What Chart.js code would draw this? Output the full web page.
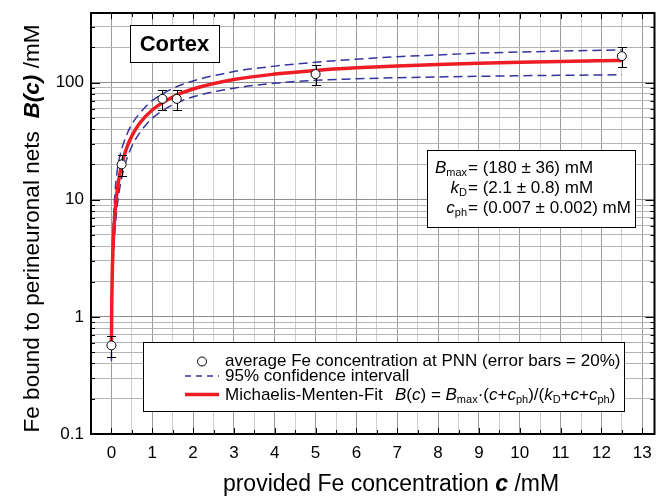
<!DOCTYPE html>
<html>
<head>
<meta charset="utf-8">
<script src="https://cdn.jsdelivr.net/npm/chart.js@4/dist/chart.umd.min.js"></script>
<style>
  html, body { margin: 0; padding: 0; background: #fff; }
  #wrap { width: 660px; height: 496px; }
</style>
</head>
<body>
<div id="wrap"><canvas id="chart" width="660" height="496"></canvas></div>
<script>
// Measured Fe bound to perineuronal nets (cortex) vs. provided Fe concentration
const conc    = [0, 0.25, 1.25, 1.6, 5, 12.5];          // c /mM
const feBound = [0.57, 20, 72.5, 72.5, 118, 168];        // B(c) /mM
const errorPercent = 20;                                  // error bars = 20 %

// Michaelis-Menten fit and its 95 % confidence band
const fitConc = [0, 0.01, 0.02, 0.04, 0.07, 0.1, 0.15, 0.2, 0.3, 0.4, 0.5, 0.7, 1, 1.5, 2, 3, 4, 5, 6, 7, 8, 9, 10, 11, 12, 12.5];
const fitB    = [0.6, 1.45, 2.29, 3.94, 6.37, 8.73, 12.5, 16.2, 23.0, 29.2, 35.0, 45.3, 58.3, 75.2, 88.0, 106, 118, 126.8, 133.4, 138.5, 142.6, 146, 148.8, 151.2, 153.2, 154.1];
const ciUpper = [0.78, 1.95, 3.2, 5.6, 9.2, 13, 18.5, 23, 30.5, 37.5, 44, 55, 70, 89, 103, 124, 138, 149, 158, 166, 172, 178, 182, 185.5, 188.5, 190];
const ciLower = [0.42, 1.05, 1.65, 2.8, 4.5, 6.3, 9.3, 12.3, 18.2, 23.5, 28.5, 37.5, 49.5, 64.5, 75.5, 89.5, 98.5, 104.5, 107.5, 110, 111.5, 113, 114.2, 115.2, 116, 116.4];

// Axis ticks
const xTickLabels = ['0','1','2','3','4','5','6','7','8','9','10','11','12','13'];
const yTickLabels = ['0.1','1','10','100'];

const FAMILY = '"Liberation Sans", Arial, Helvetica, sans-serif';
const X_MIN = -0.5, X_MAX = 13.3, Y_MIN = 0.1, Y_MAX = 392;

const xTickValues = [];
for (let v = 0; v <= 13; v += 0.5) xTickValues.push(v);
const yDecades = yTickLabels.map(Number);
const yTickValues = [];
yDecades.forEach(d => { for (let m = 1; m <= 9; m++) { const v = +(d * m).toPrecision(3); if (v <= Y_MAX) yTickValues.push(v); } });

const pts = (xs, ys) => xs.map((x, i) => ({ x, y: ys[i] }));

// ---- rich text (italic / bold / subscript runs) ----
function fontFor(style, size) {
  return (style.includes('i') ? 'italic ' : '') + (style.includes('b') ? 'bold ' : '') + size + 'px ' + FAMILY;
}
function richWidth(ctx, segs, size) {
  let w = 0;
  segs.forEach(([t, s]) => {
    const sub = s.includes('s');
    ctx.font = fontFor(s, sub ? Math.round(size * 0.64) : size);
    w += ctx.measureText(t).width;
  });
  return w;
}
function drawRich(ctx, segs, x, y, size, align) {
  const w = richWidth(ctx, segs, size);
  let cx = align === 'center' ? x - w / 2 : align === 'right' ? x - w : x;
  ctx.textAlign = 'left';
  ctx.textBaseline = 'alphabetic';
  segs.forEach(([t, s]) => {
    const sub = s.includes('s');
    ctx.font = fontFor(s, sub ? Math.round(size * 0.64) : size);
    ctx.fillText(t, cx, sub ? y + size * 0.2 : y);
    cx += ctx.measureText(t).width;
  });
}

function drawBox(ctx, x, y, w, h) {
  ctx.save();
  ctx.fillStyle = '#fff';
  ctx.fillRect(x, y, w, h);
  ctx.strokeStyle = '#000';
  ctx.lineWidth = 1;
  ctx.strokeRect(x + 0.5, y + 0.5, w, h);
  ctx.restore();
}

const decor = {
  id: 'decor',
  beforeDatasetDraw(chart, args) {
    if (args.index !== 0) return;
    // error bars under the markers
    const { ctx, scales: { x, y } } = chart;
    const f = errorPercent / 100;
    ctx.save();
    ctx.strokeStyle = '#000';
    ctx.lineWidth = 1;
    conc.forEach((c, i) => {
      const px = Math.round(x.getPixelForValue(c)) + 0.5;
      const t = Math.round(y.getPixelForValue(feBound[i] * (1 + f))) + 0.5;
      const b = Math.round(y.getPixelForValue(feBound[i] * (1 - f))) + 0.5;
      ctx.beginPath();
      ctx.moveTo(px, t); ctx.lineTo(px, b);
      ctx.moveTo(px - 4.5, t); ctx.lineTo(px + 4.5, t);
      ctx.moveTo(px - 4.5, b); ctx.lineTo(px + 4.5, b);
      ctx.stroke();
    });
    ctx.restore();
  },
  afterDatasetsDraw(chart) {
    const { ctx, chartArea: a, scales: { x, y } } = chart;
    ctx.save();
    ctx.fillStyle = '#000';

    // inward tick marks on all four sides
    ctx.strokeStyle = '#000';
    ctx.lineWidth = 1;
    ctx.beginPath();
    xTickValues.forEach(v => {
      const px = Math.round(x.getPixelForValue(v)) + 0.5;
      const len = Number.isInteger(v) ? 6 : 4;
      ctx.moveTo(px, a.bottom); ctx.lineTo(px, a.bottom - len);
      ctx.moveTo(px, a.top); ctx.lineTo(px, a.top + len);
    });
    yTickValues.forEach(v => {
      const py = Math.round(y.getPixelForValue(v)) + 0.5;
      const len = yDecades.includes(v) ? 9 : 4;
      ctx.moveTo(a.left, py); ctx.lineTo(a.left + len, py);
      ctx.moveTo(a.right, py); ctx.lineTo(a.right - len, py);
    });
    ctx.stroke();

    // plot frame
    ctx.lineWidth = 2;
    ctx.strokeRect(a.left, a.top, a.right - a.left, a.bottom - a.top);

    // sample label
    drawBox(ctx, 130, 25, 89, 37);
    ctx.font = 'bold 22px ' + FAMILY;
    ctx.textAlign = 'center';
    ctx.textBaseline = 'alphabetic';
    ctx.fillText('Cortex', 174.5, 51);

    // fit parameters
    drawBox(ctx, 427, 150, 208, 77);
    const eqX = 468;
    drawRich(ctx, [['B', 'i'], ['max', 's']], eqX - 1, 173, 17, 'right');
    drawRich(ctx, [['= (180 \u00b1 36) mM', '']], eqX, 173, 17, 'left');
    drawRich(ctx, [['k', 'i'], ['D', 's']], eqX - 1, 193, 17, 'right');
    drawRich(ctx, [['= (2.1 \u00b1 0.8) mM', '']], eqX, 193, 17, 'left');
    drawRich(ctx, [['c', 'i'], ['ph', 's']], eqX - 1, 213, 17, 'right');
    drawRich(ctx, [['= (0.007 \u00b1 0.002) mM', '']], eqX, 213, 17, 'left');

    // legend
    drawBox(ctx, 143, 342, 481, 69);
    const ds = chart.data.datasets;
    ctx.beginPath();
    ctx.arc(202, 361.5, 4.5, 0, Math.PI * 2);
    ctx.fillStyle = '#fff'; ctx.fill();
    ctx.strokeStyle = '#000'; ctx.lineWidth = 1; ctx.stroke();
    ctx.fillStyle = '#000';
    ctx.beginPath();
    ctx.strokeStyle = ds[2].borderColor; ctx.lineWidth = ds[2].borderWidth;
    ctx.setLineDash([6, 5]);
    ctx.moveTo(185, 376); ctx.lineTo(219, 376);
    ctx.stroke();
    ctx.setLineDash([]);
    ctx.beginPath();
    ctx.strokeStyle = ds[1].borderColor; ctx.lineWidth = ds[1].borderWidth;
    ctx.moveTo(185, 394.5); ctx.lineTo(219, 394.5);
    ctx.stroke();

    drawRich(ctx, [[ds[0].label, '']], 225, 366, 17, 'left');
    drawRich(ctx, [[ds[2].label, '']], 225, 381, 17, 'left');
    drawRich(ctx, [[ds[1].label, '']], 225, 400, 17, 'left');
    drawRich(ctx, [
      ['B', 'i'], ['(', ''], ['c', 'i'], [') = ', ''], ['B', 'i'], ['max', 's'], ['\u00b7(', ''],
      ['c', 'i'], ['+', ''], ['c', 'i'], ['ph', 's'], [')/(', ''], ['k', 'i'], ['D', 's'],
      ['+', ''], ['c', 'i'], ['+', ''], ['c', 'i'], ['ph', 's'], [')', '']
    ], 395, 400, 17, 'left');

    ctx.restore();
  },
  afterDraw(chart) {
    const { ctx } = chart;
    ctx.save();
    ctx.fillStyle = '#000';
    // x axis title
    drawRich(ctx, [['provided Fe concentration ', ''], ['c', 'bi'], [' /mM', '']], 391, 491, 23, 'center');
    // y axis title
    ctx.translate(39, 228.5);
    ctx.rotate(-Math.PI / 2);
    drawRich(ctx, [['Fe bound to perineuronal nets  ', ''], ['B(c)', 'bi'], [' /mM', '']], 0, 0, 22.6, 'center');
    ctx.restore();
  }
};

new Chart(document.getElementById('chart'), {
  type: 'scatter',
  data: {
    datasets: [
      {
        label: 'average Fe concentration at PNN (error bars = 20%)',
        data: pts(conc, feBound),
        showLine: false,
        pointRadius: 4.5,
        pointBackgroundColor: '#fff',
        pointBorderColor: '#000',
        pointBorderWidth: 1,
        order: 0
      },
      {
        label: 'Michaelis-Menten-Fit',
        data: pts(fitConc, fitB),
        showLine: true,
        borderColor: '#ee1c25',
        borderWidth: 3.5,
        pointRadius: 0,
        cubicInterpolationMode: 'monotone',
        order: 1
      },
      {
        label: '95% confidence intervall',
        data: pts(fitConc, ciUpper),
        showLine: true,
        borderColor: '#34349e',
        borderWidth: 1.5,
        borderDash: [9, 5],
        pointRadius: 0,
        cubicInterpolationMode: 'monotone',
        order: 2
      },
      {
        label: '95% confidence intervall (lower)',
        data: pts(fitConc, ciLower),
        showLine: true,
        borderColor: '#34349e',
        borderWidth: 1.5,
        borderDash: [9, 5],
        pointRadius: 0,
        cubicInterpolationMode: 'monotone',
        order: 2
      }
    ]
  },
  options: {
    responsive: false,
    animation: false,
    devicePixelRatio: 1,
    layout: { padding: { top: 13, right: 1, left: 0, bottom: 0 } },
    plugins: { legend: { display: false }, tooltip: { enabled: false } },
    scales: {
      x: {
        type: 'linear',
        min: X_MIN, max: X_MAX,
        afterBuildTicks: s => { s.ticks = xTickValues.map(v => ({ value: v })); },
        afterFit: s => { s.height = 62; s.paddingLeft = 0; s.paddingRight = 0; },
        ticks: {
          autoSkip: false, maxRotation: 0, padding: 9,
          color: '#000', font: { family: FAMILY, size: 17 },
          callback: v => Number.isInteger(v) ? xTickLabels[v] : ''
        },
        grid: {
          drawTicks: false,
          color: c => Number.isInteger(c.tick.value) ? '#9a9a9a' : '#cfcfcf',
          lineWidth: 1
        },
        border: { display: false }
      },
      y: {
        type: 'logarithmic',
        min: Y_MIN, max: Y_MAX,
        afterBuildTicks: s => { s.ticks = yTickValues.map(v => ({ value: v })); },
        afterFit: s => { s.width = 91; s.paddingTop = 0; s.paddingBottom = 0; },
        ticks: {
          autoSkip: false, padding: 7,
          color: '#000', font: { family: FAMILY, size: 17 },
          callback: v => { const k = yDecades.indexOf(v); return k >= 0 ? yTickLabels[k] : ''; }
        },
        grid: {
          drawTicks: false,
          color: c => yDecades.includes(c.tick.value) ? '#8e8e8e' : '#b4b4b4',
          lineWidth: 1
        },
        border: { display: false }
      }
    }
  },
  plugins: [decor]
});
</script>
</body>
</html>
